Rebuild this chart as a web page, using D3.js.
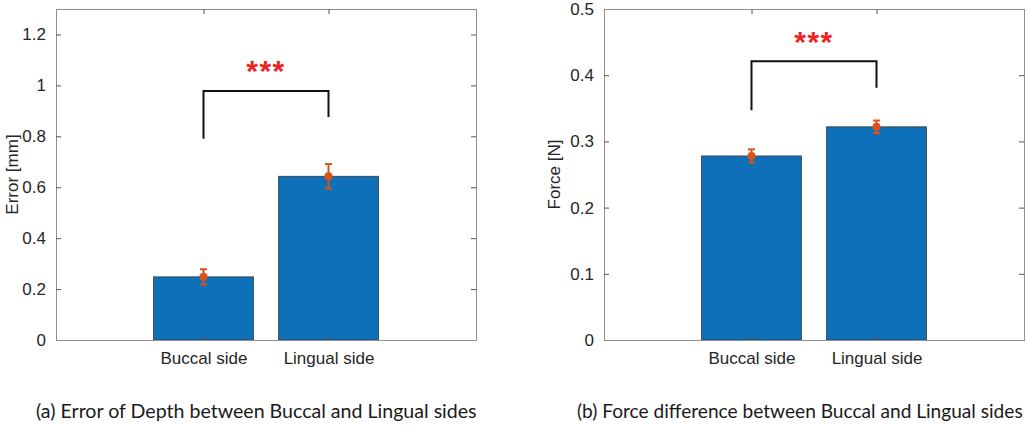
<!DOCTYPE html>
<html lang="en">
<head>
<meta charset="utf-8">
<script src="https://d3js.org/d3.v7.min.js"></script>
<style type="text/css">
body {
	margin: 0;
	background: #fff;
}
.ylabel {
	font-family: "Liberation Sans", Arial, sans-serif;
	font-size: 17px;
	fill: #262626;
}
.caption {
	font-family: Lato, "Open Sans", sans-serif;
	font-size: 19.5px;
	fill: #1a1a1a;
}
</style>
</head>
<body>
<script type="text/javascript">

// categories shared by both panels
var categories = ["Buccal side", "Lingual side"];

// panel (a) : depth error
var errorMeans = [0.248, 0.643];
var errorSd = [0.03, 0.048];
var errorTicks = [0, 0.2, 0.4, 0.6, 0.8, 1, 1.2];
var errorBracket = [0.79, 0.978, 0.876];   // left leg bottom, top, right leg bottom
var errorStarsAt = 1.068;

// panel (b) : force difference
var forceMeans = [0.278, 0.322];
var forceSd = [0.01, 0.0095];
var forceTicks = [0, 0.1, 0.2, 0.3, 0.4, 0.5];
var forceBracket = [0.347, 0.421, 0.381];
var forceStarsAt = 0.455;

var captions = ["(a) Error of Depth between Buccal and Lingual sides",
                "(b) Force difference between Buccal and Lingual sides"];

var width = 1028;
var height = 426;

var svg = d3.select("body")
            .append("svg")
            .attr("width", width)
            .attr("height", height);

// draw one bar panel
function panel(opt) {
  var x = d3.scaleLinear()
            .domain([-0.18, 3.18])
            .range([opt.left, opt.left + 420]);
  var y = d3.scaleLinear()
            .domain([0, opt.ymax])
            .range([340, 9]);

  var g = svg.append("g");

  // bars
  g.selectAll("rect.bar")
   .data(opt.means)
   .enter()
   .append("rect")
   .attr("class", "bar")
   .attr("x", function(d, i) { return x(i + 1 - 0.4); })
   .attr("width", x(0.8) - x(0))
   .attr("y", function(d) { return y(d); })
   .attr("height", function(d) { return y(0) - y(d); })
   .style("fill", "#0e70b8")
   .style("stroke", "#3a3a3a")
   .style("stroke-width", 0.8);

  // axes with inside ticks
  var yl = d3.axisLeft(y).tickValues(opt.ticks).tickSize(-5).tickPadding(10)
             .tickFormat(function(d) { return d; });
  var yr = d3.axisRight(y).tickValues(opt.ticks).tickSize(-5).tickFormat("");
  var xb = d3.axisBottom(x).tickValues([1, 2]).tickSize(-5).tickPadding(12)
             .tickFormat(function(d) { return categories[d - 1]; });
  var xt = d3.axisTop(x).tickValues([1, 2]).tickSize(-5).tickFormat("");

  g.append("g").attr("transform", "translate(" + opt.left + ",0)").call(yl);
  g.append("g").attr("transform", "translate(" + (opt.left + 420) + ",0)").call(yr);
  g.append("g").attr("transform", "translate(0,340)").call(xb);
  g.append("g").attr("transform", "translate(0,9)").call(xt);

  g.selectAll(".domain").style("stroke", "#8f8f8f").style("stroke-width", 1);
  g.selectAll(".tick line").style("stroke", "#555");
  g.selectAll(".tick text").style("font-size", "17px")
   .style("font-family", "'Liberation Sans', Arial, sans-serif").style("fill", "#262626");

  // error bars
  var eb = g.selectAll("g.err")
            .data(opt.means)
            .enter()
            .append("g")
            .attr("class", "err")
            .style("stroke", "#d95319")
            .style("fill", "#d95319");
  eb.append("line")
    .attr("x1", function(d, i) { return x(i + 1); })
    .attr("x2", function(d, i) { return x(i + 1); })
    .attr("y1", function(d, i) { return y(d - opt.sd[i]); })
    .attr("y2", function(d, i) { return y(d + opt.sd[i]); })
    .style("stroke-width", 2);
  [-1, 1].forEach(function(s) {
    eb.append("line")
      .attr("x1", function(d, i) { return x(i + 1) - 3.5; })
      .attr("x2", function(d, i) { return x(i + 1) + 3.5; })
      .attr("y1", function(d, i) { return y(d + s * opt.sd[i]); })
      .attr("y2", function(d, i) { return y(d + s * opt.sd[i]); })
      .style("stroke-width", 2);
  });
  eb.append("circle")
    .attr("cx", function(d, i) { return x(i + 1); })
    .attr("cy", function(d) { return y(d); })
    .attr("r", 4)
    .style("stroke", "none");

  // significance bracket
  var b = opt.bracket;
  g.append("path")
   .attr("d", "M" + x(1) + "," + y(b[0]) + "V" + y(b[1]) + "H" + x(2) + "V" + y(b[2]))
   .style("fill", "none")
   .style("stroke", "#111")
   .style("stroke-width", 2);

  g.append("text")
   .attr("x", x(1.5))
   .attr("y", y(opt.stars) + 13)
   .attr("text-anchor", "middle")
   .style("font-family", "'Liberation Sans', Arial, sans-serif")
   .style("font-weight", "bold")
   .style("font-size", "30px")
   .style("letter-spacing", "1.5px")
   .style("fill", "#ee2222")
   .text("***");

  // y label
  g.append("text")
   .attr("class", "ylabel")
   .attr("transform", "translate(" + opt.labelX + ",174.5) rotate(-90)")
   .attr("text-anchor", "middle")
   .text(opt.ylabel);

  // caption, squeezed horizontally to the narrow width of the original font
  var cap = svg.append("text")
     .attr("class", "caption")
     .text(opt.caption);
  var natural = cap.node().getComputedTextLength();
  cap.attr("transform", "translate(" + opt.capX + ",418) scale(" + (opt.capW / natural) + ",1)");
}

panel({left: 56, ymax: 1.3, means: errorMeans, sd: errorSd, ticks: errorTicks,
       bracket: errorBracket, stars: errorStarsAt, ylabel: "Error [mm]",
       labelX: 18, caption: captions[0], capX: 36, capW: 441});

panel({left: 604, ymax: 0.5, means: forceMeans, sd: forceSd, ticks: forceTicks,
       bracket: forceBracket, stars: forceStarsAt, ylabel: "Force [N]",
       labelX: 560, caption: captions[1], capX: 577, capW: 446});

</script>
</body>
</html>
